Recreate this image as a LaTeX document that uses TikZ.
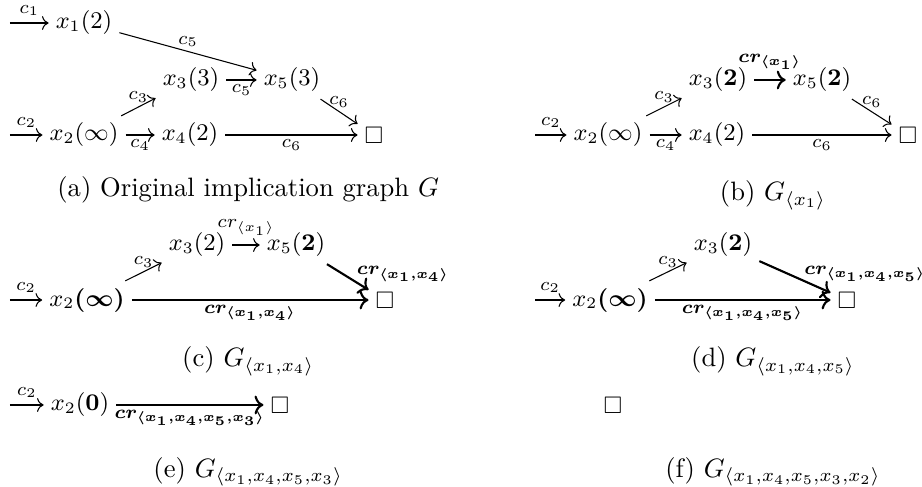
\documentclass[tikz,border=0pt]{standalone}
\usepackage{amsmath,amssymb}
\usepackage{tikz}
\usetikzlibrary{positioning,arrows.meta}
\newcommand{\crsub}[1]{cr_{\langle #1\rangle}}
\newcommand{\crbold}[1]{\boldsymbol{cr_{\langle #1\rangle}}}
\tikzset{
  vtx/.style={inner sep=2.5pt,font=\small},
  lbl/.style={font=\scriptsize,inner sep=1.5pt},
  ar/.style={-{To},thin},
  arb/.style={-{To},thick},
  subcap/.style={font=\normalsize,inner sep=0pt},
}
\begin{document}
\begin{tikzpicture}
  \useasboundingbox (0,0) rectangle (12.185,6.436);
  % (a) original graph
  \node[vtx] (a1) at (1.110,6.132) {$x_1(2)$};
  \node[vtx] (a3) at (2.524,5.379) {$x_3(3)$};
  \node[vtx] (a5) at (3.859,5.379) {$x_5(3)$};
  \node[vtx] (a2) at (1.110,4.652) {$x_2(\infty)$};
  \node[vtx] (a4) at (2.511,4.652) {$x_4(2)$};
  \node[vtx] (ab) at (4.943,4.652) {$\square$};
  \coordinate (ai1) at (0.132,6.132);
  \coordinate (ai2) at (0.132,4.652);
  \draw[ar] (ai1) -- node[lbl,above=1pt] {$c_1$} (a1);
  \draw[ar] (ai2) -- node[lbl,above=1pt] {$c_2$} (a2);
  \draw[ar] (a1) -- node[lbl,above] {$c_5$} (a5);
  \draw[ar] (a2) -- node[lbl,above] {$c_3$} (a3);
  \draw[ar] (a3) -- node[lbl,below] {$c_5$} (a5);
  \draw[ar] (a2) -- node[lbl,below] {$c_4$} (a4);
  \draw[ar] (a5) -- node[lbl,above] {$c_6$} (ab);
  \draw[ar] (a4) -- node[lbl,below] {$c_6$} (ab);
  \node[subcap] (capa) at (3.28,3.925) {(a) Original implication graph $G$};

  % (b)
  \node[vtx] (b3) at (9.489,5.379) {$x_3\mathbf{(2)}$};
  \node[vtx] (b5) at (10.864,5.379) {$x_5\mathbf{(2)}$};
  \node[vtx] (b2) at (8.035,4.652) {$x_2(\infty)$};
  \node[vtx] (b4) at (9.476,4.652) {$x_4(2)$};
  \node[vtx] (bb) at (12.000,4.652) {$\square$};
  \coordinate (bi2) at (7.071,4.652);
  \draw[ar] (bi2) -- node[lbl,above=1pt] {$c_2$} (b2);
  \draw[ar] (b2) -- node[lbl,above] {$c_3$} (b3);
  \draw[arb] (b3) -- node[lbl,above=2pt] {$\crbold{x_1}$} (b5);
  \draw[ar] (b2) -- node[lbl,below] {$c_4$} (b4);
  \draw[ar] (b5) -- node[lbl,above] {$c_6$} (bb);
  \draw[ar] (b4) -- node[lbl,below] {$c_6$} (bb);
  \node[subcap] (capb) at (10.216,3.859) {(b) $G_{\langle x_1\rangle}$};

  % (c)
  \node[vtx] (c3) at (2.604,3.198) {$x_3(2)$};
  \node[vtx] (c5) at (3.912,3.198) {$x_5\mathbf{(2)}$};
  \node[vtx] (c2) at (1.150,2.471) {$x_2\boldsymbol{(\infty)}$};
  \node[vtx] (cb) at (5.088,2.471) {$\square$};
  \coordinate (ci2) at (0.132,2.471);
  \draw[ar] (ci2) -- node[lbl,above=1pt] {$c_2$} (c2);
  \draw[ar] (c2) -- node[lbl,above] {$c_3$} (c3);
  \draw[ar] (c3) -- node[lbl,above=2pt] {$\crsub{x_1}$} (c5);
  \draw[arb] (c5) -- node[lbl,pos=0.6,anchor=west,yshift=2pt] {$\crbold{x_1,x_4}$} (cb);
  \draw[arb] (c2) -- node[lbl,below] {$\crbold{x_1,x_4}$} (cb);
  \node[subcap] (capc) at (3.28,1.665) {(c) $G_{\langle x_1,x_4\rangle}$};

  % (d)
  \node[vtx] (d3) at (9.555,3.198) {$x_3\mathbf{(2)}$};
  \node[vtx] (d2) at (8.062,2.471) {$x_2\boldsymbol{(\infty)}$};
  \node[vtx] (db) at (11.194,2.471) {$\square$};
  \coordinate (di2) at (7.071,2.471);
  \draw[ar] (di2) -- node[lbl,above=1pt] {$c_2$} (d2);
  \draw[ar] (d2) -- node[lbl,above] {$c_3$} (d3);
  \draw[arb] (d3) -- node[lbl,pos=0.56,anchor=west,yshift=2pt] {$\crbold{x_1,x_4,x_5}$} (db);
  \draw[arb] (d2) -- node[lbl,below] {$\crbold{x_1,x_4,x_5}$} (db);
  \node[subcap] (capd) at (10.216,1.665) {(d) $G_{\langle x_1,x_4,x_5\rangle}$};

  % (e)
  \node[vtx] (e2) at (1.057,1.084) {$x_2\mathbf{(0)}$};
  \node[vtx] (eb) at (3.700,1.084) {$\square$};
  \coordinate (ei2) at (0.132,1.084);
  \draw[ar] (ei2) -- node[lbl,above=1pt] {$c_2$} (e2);
  \draw[arb] (e2) -- node[lbl,below] {$\crbold{x_1,x_4,x_5,x_3}$} (eb);
  \node[subcap] (cape) at (3.28,0.2) {(e) $G_{\langle x_1,x_4,x_5,x_3\rangle}$};

  % (f)
  \node[vtx] (fb) at (8.101,1.084) {$\square$};
  \node[subcap] (capf) at (10.216,0.2) {(f) $G_{\langle x_1,x_4,x_5,x_3,x_2\rangle}$};
\end{tikzpicture}
\end{document}
